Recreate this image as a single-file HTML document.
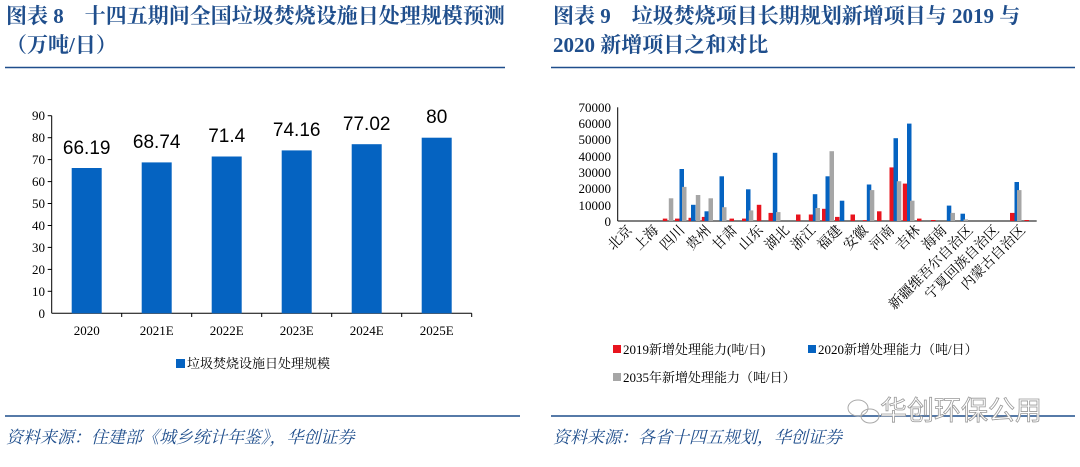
<!DOCTYPE html>
<html><head><meta charset="utf-8"><style>
body{margin:0;width:1080px;height:462px;background:#fff;overflow:hidden;font-family:"Liberation Serif","Noto Serif CJK SC",serif}
</style></head><body>
<svg width="1080" height="462" xmlns="http://www.w3.org/2000/svg">
<g font-family="Liberation Serif, Noto Serif CJK SC, serif" font-weight="bold" fill="#1f4e8c" font-size="21">
<text x="6" y="23">图表 8　十四五期间全国垃圾焚烧设施日处理规模预测</text>
<text x="6" y="52">（万吨/日）</text>
<text x="553" y="23">图表 9　垃圾焚烧项目长期规划新增项目与 2019 与</text>
<text x="553" y="52">2020 新增项目之和对比</text>
</g>
<line x1="5" y1="67.5" x2="505" y2="67.5" stroke="#1f4e8c" stroke-width="1.5"/>
<line x1="551" y1="67.5" x2="1075" y2="67.5" stroke="#1f4e8c" stroke-width="1.5"/>
<line x1="5" y1="416" x2="520" y2="416" stroke="#1f4e8c" stroke-width="1.5"/>
<line x1="551" y1="416" x2="1075" y2="416" stroke="#1f4e8c" stroke-width="1.5"/>
<g font-family="Liberation Serif, Noto Serif CJK SC, serif" font-style="italic" fill="#1f4e8c" font-size="17">
<text x="6" y="443">资料来源：住建部《城乡统计年鉴》，华创证券</text>
<text x="553" y="443">资料来源：各省十四五规划，华创证券</text>
</g>
<text x="880" y="420" font-family="Liberation Sans, Noto Sans CJK SC, sans-serif" font-size="27" fill="#fff" stroke="#999" stroke-width="0.8">华创环保公用</text>
<ellipse cx="858" cy="408" rx="10" ry="8" fill="none" stroke="#aaa"/>
<ellipse cx="870" cy="416" rx="9" ry="7" fill="none" stroke="#aaa"/>

<!-- left chart -->
<g font-size="13" fill="#000" text-anchor="end">
<text x="45" y="120">90</text><text x="45" y="142">80</text><text x="45" y="164">70</text><text x="45" y="186">60</text><text x="45" y="208">50</text><text x="45" y="230">40</text><text x="45" y="252">30</text><text x="45" y="274">20</text><text x="45" y="296">10</text><text x="45" y="318">0</text>
</g>
<g stroke="#000" stroke-width="1">
<line x1="51.7" y1="115.7" x2="51.7" y2="313.3"/>
<line x1="51.7" y1="313.3" x2="471.7" y2="313.3"/>
<line x1="47.7" y1="115.7" x2="51.7" y2="115.7"/><line x1="47.7" y1="137.7" x2="51.7" y2="137.7"/><line x1="47.7" y1="159.6" x2="51.7" y2="159.6"/><line x1="47.7" y1="181.6" x2="51.7" y2="181.6"/><line x1="47.7" y1="203.5" x2="51.7" y2="203.5"/><line x1="47.7" y1="225.5" x2="51.7" y2="225.5"/><line x1="47.7" y1="247.4" x2="51.7" y2="247.4"/><line x1="47.7" y1="269.4" x2="51.7" y2="269.4"/><line x1="47.7" y1="291.3" x2="51.7" y2="291.3"/>
<line x1="121.7" y1="313.3" x2="121.7" y2="317"/><line x1="191.7" y1="313.3" x2="191.7" y2="317"/><line x1="261.7" y1="313.3" x2="261.7" y2="317"/><line x1="331.7" y1="313.3" x2="331.7" y2="317"/><line x1="401.7" y1="313.3" x2="401.7" y2="317"/><line x1="471.7" y1="313.3" x2="471.7" y2="317"/>
</g>
<g fill="#0563c1">
<rect x="71.7" y="168" width="30" height="145.3"/>
<rect x="141.7" y="162.4" width="30" height="150.9"/>
<rect x="211.7" y="156.5" width="30" height="156.8"/>
<rect x="281.7" y="150.4" width="30" height="162.9"/>
<rect x="351.7" y="144.2" width="30" height="169.1"/>
<rect x="421.7" y="137.7" width="30" height="175.6"/>
</g>
<g font-family="Liberation Sans, sans-serif" font-size="19" text-anchor="middle" fill="#000">
<text x="86.7" y="154">66.19</text><text x="156.7" y="148">68.74</text><text x="226.7" y="142">71.4</text><text x="296.7" y="136">74.16</text><text x="366.7" y="130">77.02</text><text x="436.7" y="123">80</text>
</g>
<g font-size="13" text-anchor="middle" fill="#000">
<text x="86.7" y="335">2020</text><text x="156.7" y="335">2021E</text><text x="226.7" y="335">2022E</text><text x="296.7" y="335">2023E</text><text x="366.7" y="335">2024E</text><text x="436.7" y="335">2025E</text>
</g>
<rect x="176" y="359" width="9" height="9" fill="#0563c1"/>
<text x="187" y="368" font-size="13" fill="#000">垃圾焚烧设施日处理规模</text>

<!-- right chart -->
<g font-size="13" fill="#000" text-anchor="end">
<text x="611" y="112">70000</text><text x="611" y="128">60000</text><text x="611" y="144">50000</text><text x="611" y="161">40000</text><text x="611" y="177">30000</text><text x="611" y="193">20000</text><text x="611" y="210">10000</text><text x="611" y="226">0</text>
</g>
<g stroke="#000" stroke-width="1">
<line x1="617.7" y1="107.3" x2="617.7" y2="221"/>
<line x1="617.7" y1="221" x2="1036.7" y2="221"/>
</g>
<g transform="translate(0,221) scale(1,-1)">
<g fill="#e8141e">
<rect x="662.8" y="0" width="4.5" height="2.4"/><rect x="675" y="0" width="4.5" height="2.4"/><rect x="688.5" y="0" width="4.5" height="3.2"/><rect x="701.8" y="0" width="4.5" height="4.1"/><rect x="729.5" y="0" width="4.5" height="2.4"/><rect x="742" y="0" width="4.5" height="2.4"/><rect x="756.8" y="0" width="4.5" height="16.2"/><rect x="768.5" y="0" width="4.5" height="8.1"/><rect x="796" y="0" width="4.5" height="6.5"/><rect x="808.8" y="0" width="4.5" height="6.5"/><rect x="822" y="0" width="4.5" height="12.2"/><rect x="835" y="0" width="4.5" height="4.1"/><rect x="850.5" y="0" width="4.5" height="6.5"/><rect x="862.8" y="0" width="4.5" height="0.9"/><rect x="877" y="0" width="4.5" height="9.7"/><rect x="889.5" y="0" width="4.5" height="53.6"/><rect x="902.8" y="0" width="4.5" height="37.4"/><rect x="917" y="0" width="4.5" height="2.4"/><rect x="931" y="0" width="4.5" height="1"/><rect x="1010" y="0" width="4.5" height="8.1"/><rect x="1024.5" y="0" width="4.5" height="1"/>
</g>
<g fill="#0563c1">
<rect x="679.5" y="0" width="4.5" height="52"/><rect x="691" y="0" width="4.5" height="16.2"/><rect x="704.5" y="0" width="4.5" height="9.7"/><rect x="719.5" y="0" width="4.5" height="44.7"/><rect x="746" y="0" width="4.5" height="31.7"/><rect x="772.8" y="0" width="4.5" height="68.2"/><rect x="812.8" y="0" width="4.5" height="26.8"/><rect x="825.5" y="0" width="4.5" height="44.7"/><rect x="839.8" y="0" width="4.5" height="20.3"/><rect x="866.8" y="0" width="4.5" height="36.5"/><rect x="893.5" y="0" width="4.5" height="82.8"/><rect x="907" y="0" width="4.5" height="97.4"/><rect x="946.8" y="0" width="4.5" height="15.4"/><rect x="960.5" y="0" width="4.5" height="7.3"/><rect x="1014.5" y="0" width="4.5" height="39"/>
</g>
<g fill="#a6a6a6">
<rect x="668.8" y="0" width="4.5" height="22.7"/><rect x="682" y="0" width="4.5" height="34.1"/><rect x="695.8" y="0" width="4.5" height="26"/><rect x="708.5" y="0" width="4.5" height="22.7"/><rect x="722" y="0" width="4.5" height="13.8"/><rect x="748.8" y="0" width="4.5" height="10.6"/><rect x="776" y="0" width="4.5" height="8.9"/><rect x="815.5" y="0" width="4.5" height="13"/><rect x="829.5" y="0" width="4.5" height="69.8"/><rect x="869.8" y="0" width="4.5" height="30.9"/><rect x="896.8" y="0" width="4.5" height="39.8"/><rect x="910" y="0" width="4.5" height="20.3"/><rect x="950.5" y="0" width="4.5" height="8.1"/><rect x="963.5" y="0" width="4.5" height="1.6"/><rect x="1017" y="0" width="4.5" height="30.9"/>
</g>
</g>
<g font-size="14" fill="#000" text-anchor="end">
<text transform="translate(633,231) rotate(-45)">北京</text>
<text transform="translate(659.2,231) rotate(-45)">上海</text>
<text transform="translate(685.4,231) rotate(-45)">四川</text>
<text transform="translate(711.6,231) rotate(-45)">贵州</text>
<text transform="translate(737.8,231) rotate(-45)">甘肃</text>
<text transform="translate(764,231) rotate(-45)">山东</text>
<text transform="translate(790.2,231) rotate(-45)">湖北</text>
<text transform="translate(816.4,231) rotate(-45)">浙江</text>
<text transform="translate(842.6,231) rotate(-45)">福建</text>
<text transform="translate(868.8,231) rotate(-45)">安徽</text>
<text transform="translate(895,231) rotate(-45)">河南</text>
<text transform="translate(921.2,231) rotate(-45)">吉林</text>
<text transform="translate(947.4,231) rotate(-45)">海南</text>
<text transform="translate(973.6,231) rotate(-45)">新疆维吾尔自治区</text>
<text transform="translate(999.8,231) rotate(-45)">宁夏回族自治区</text>
<text transform="translate(1026,231) rotate(-45)">内蒙古自治区</text>
</g>
<g font-size="13" fill="#000">
<rect x="613" y="345" width="8" height="8" fill="#e8141e"/><text x="623" y="354">2019新增处理能力(吨/日)</text>
<rect x="808" y="345" width="8" height="8" fill="#0563c1"/><text x="818" y="354">2020新增处理能力（吨/日）</text>
<rect x="613" y="373" width="8" height="8" fill="#a6a6a6"/><text x="623" y="382">2035年新增处理能力（吨/日）</text>
</g>
</svg>
</body></html>
